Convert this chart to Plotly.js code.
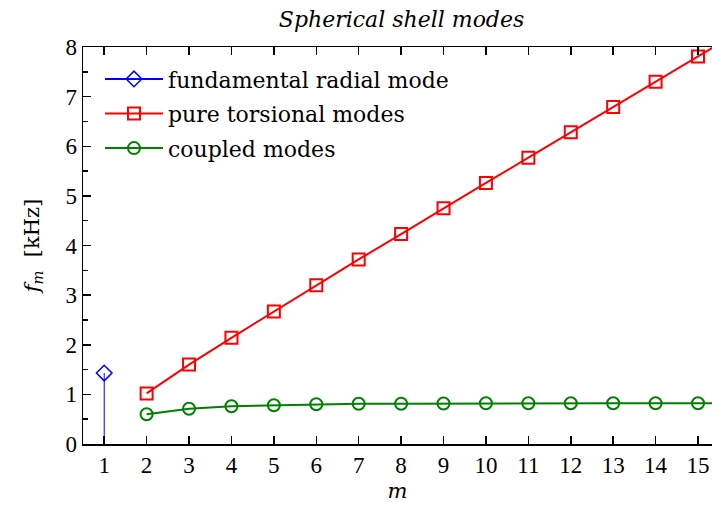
<!DOCTYPE html>
<html>
<head>
<meta charset="utf-8">
<script src="https://cdn.plot.ly/plotly-3.0.1.min.js"></script>
<style>html,body{margin:0;padding:0;background:#fff;}#chart{width:712px;height:505px;}</style>
</head>
<body>
<div id="chart"></div>
<script>
// Data
const radialM = [1];
const radialF = [1.43];
const torsionalM = [2, 3, 4, 5, 6, 7, 8, 9, 10, 11, 12, 13, 14, 15, 16];
const torsionalF = [1.02, 1.60, 2.14, 2.67, 3.20, 3.72, 4.23, 4.75, 5.26, 5.77, 6.28, 6.79, 7.30, 7.81, 8.32];
const coupledM = [2, 3, 4, 5, 6, 7, 8, 9, 10, 11, 12, 13, 14, 15, 16];
const coupledF = [0.60, 0.71, 0.76, 0.78, 0.80, 0.81, 0.81, 0.815, 0.82, 0.82, 0.82, 0.82, 0.82, 0.82, 0.82];
const xTicks = [1, 2, 3, 4, 5, 6, 7, 8, 9, 10, 11, 12, 13, 14, 15];
const yTicks = [0, 1, 2, 3, 4, 5, 6, 7, 8];
const yMinor = [0.5, 1.5, 2.5, 3.5, 4.5, 5.5, 6.5, 7.5];

const NUMFONT = "Liberation Serif, serif";
const TXTFONT = "DejaVu Serif, serif";

const traces = [
  {
    x: [radialM[0], radialM[0]], y: [0, radialF[0]],
    mode: 'lines', line: {color: '#0000ff', width: 1},
    showlegend: false, hoverinfo: 'skip'
  },
  {
    x: radialM, y: radialF, name: 'fundamental radial mode', legendgroup: 'a',
    mode: 'lines+markers', line: {color: '#0000ff', width: 2},
    marker: {symbol: 'diamond-open', size: 12, color: '#0000ff', line: {width: 1.5}}
  },
  {
    x: torsionalM, y: torsionalF, name: 'pure torsional modes', legendgroup: 'b',
    mode: 'lines+markers', line: {color: '#ff0000', width: 2},
    marker: {symbol: 'square-open', size: 12, color: '#ff0000', line: {width: 2}}
  },
  {
    x: coupledM, y: coupledF, name: 'coupled modes', legendgroup: 'c',
    mode: 'lines+markers', line: {color: '#008000', width: 2},
    marker: {symbol: 'circle-open', size: 12, color: '#008000', line: {width: 2}}
  }
];

const layout = {
  width: 712, height: 505,
  margin: {l: 83, r: 0, t: 47, b: 61, pad: 0},
  paper_bgcolor: '#fff', plot_bgcolor: '#fff',
  font: {family: NUMFONT, size: 22, color: '#000'},
  title: {
    text: '<i>Spherical shell modes</i>',
    font: {family: TXTFONT, size: 22, color: '#000'},
    x: 0.564, xanchor: 'center', y: 0.962, yanchor: 'middle'
  },
  xaxis: {
    range: [0.5, 15.33],
    tickmode: 'array', tickvals: xTicks, ticktext: xTicks.map(String),
    ticks: 'inside', ticklen: 8, tickwidth: 1.5, tickcolor: '#000',
    showline: true, linecolor: '#000', linewidth: 1.5,
    mirror: 'ticks', showgrid: false, zeroline: false,
    tickfont: {family: NUMFONT, size: 23},
    title: {text: '<i>m</i>', font: {family: TXTFONT, size: 21}, standoff: 6}
  },
  yaxis: {
    range: [0, 8],
    tickmode: 'array', tickvals: yTicks, ticktext: yTicks.map(String),
    ticks: 'inside', ticklen: 8, tickwidth: 1.5, tickcolor: '#000',
    minor: {tickvals: yMinor, ticks: 'inside', ticklen: 5, tickwidth: 1.5, tickcolor: '#000', showgrid: false},
    showline: true, linecolor: '#000', linewidth: 1.5,
    mirror: false, showgrid: false, zeroline: false,
    tickfont: {family: NUMFONT, size: 23},
    title: {text: '<i>f</i><sub><i>m</i></sub>  [kHz]', font: {family: TXTFONT, size: 21}, standoff: 20}
  },
  legend: {
    x: 0.027, y: 0.972, xanchor: 'left', yanchor: 'top',
    bgcolor: 'rgba(0,0,0,0)', borderwidth: 0,
    font: {family: TXTFONT, size: 22, color: '#000'},
    traceorder: 'grouped', tracegroupgap: 3, itemwidth: 58
  },
  showlegend: true
};

Plotly.newPlot('chart', traces, layout, {displayModeBar: false, staticPlot: true});
</script>
</body>
</html>
